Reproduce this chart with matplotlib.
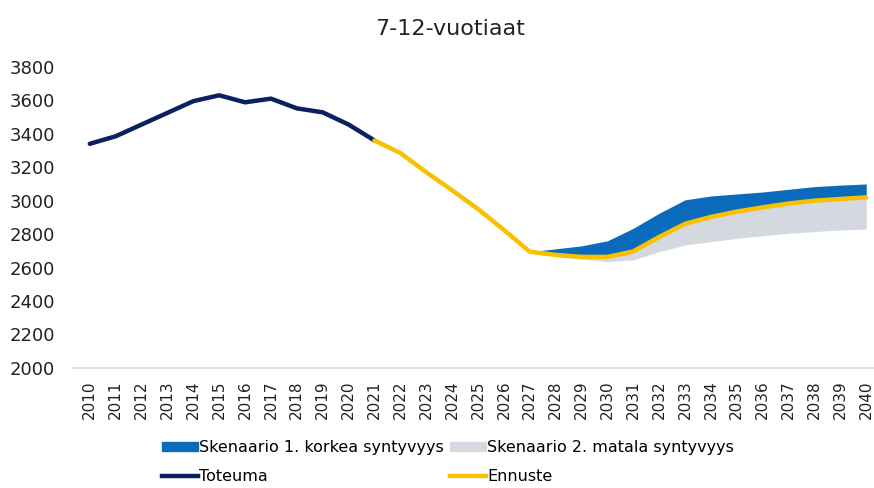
import numpy as np
import matplotlib.pyplot as plt
from matplotlib.patches import Patch
from matplotlib.lines import Line2D

# Data
years = list(range(2010, 2041))
toteuma_years = list(range(2010, 2022))
toteuma = [3340, 3385, 3455, 3525, 3595, 3630, 3588, 3610, 3552, 3528, 3455, 3360]

ennuste_years = list(range(2021, 2041))
ennuste = [3360, 3285, 3170, 3062, 2950, 2825, 2695, 2676, 2664, 2664, 2697,
           2783, 2862, 2903, 2935, 2960, 2983, 3000, 3010, 3020]

scen_years = list(range(2027, 2041))
base = [2695, 2676, 2664, 2664, 2697, 2783, 2862, 2903, 2935, 2960, 2983, 3000, 3010, 3020]
korkea = [2695, 2712, 2730, 2760, 2835, 2925, 3005, 3028, 3040, 3052, 3068, 3084, 3093, 3100]
matala = [2695, 2665, 2650, 2636, 2646, 2695, 2735, 2755, 2775, 2790, 2805, 2815, 2825, 2830]

c_navy = '#0c1f5e'
c_yellow = '#f9c000'
c_blue = '#0a6bbd'
c_gray = '#d3d9de'

plt.rcParams['font.family'] = 'DejaVu Sans'

fig = plt.figure(figsize=(8.74, 4.88), dpi=100)
ax = fig.add_axes([0.082, 0.246, 0.918, 0.617])

ax.fill_between(scen_years, base, korkea, color=c_blue, lw=0)
ax.fill_between(scen_years, matala, base, color=c_gray, lw=0)
ax.plot(toteuma_years, toteuma, color=c_navy, lw=3.2, solid_capstyle='round')
ax.plot(ennuste_years, ennuste, color=c_yellow, lw=3.2, solid_capstyle='round')

ax.set_xlim(2009.3, 2040.3)
ax.set_ylim(2000, 3800)
ax.set_yticks(np.arange(2000, 3801, 200))
ax.set_xticks(years)
ax.set_xticklabels([str(y) for y in years], rotation=90, fontsize=11, color='#222222')
ax.tick_params(axis='y', labelsize=13, colors='#222222', length=0, pad=12)
ax.tick_params(axis='x', length=0, pad=9)
for s in ['top', 'right', 'left']:
    ax.spines[s].set_visible(False)
ax.spines['bottom'].set_color('#d9d9d9')
ax.spines['bottom'].set_linewidth(1.2)

fig.text(0.515, 0.94, '7-12-vuotiaat', ha='center', va='center', fontsize=16, color='#222222')

handles = [Patch(color=c_blue), Line2D([], [], color=c_navy, lw=3.2),
           Patch(color=c_gray), Line2D([], [], color=c_yellow, lw=3.2)]
labels = ['Skenaario 1. korkea syntyvyys', 'Toteuma',
          'Skenaario 2. matala syntyvyys', 'Ennuste']
fig.legend(handles, labels, ncol=2, loc='lower left', bbox_to_anchor=(0.176, -0.008),
           frameon=False, fontsize=11.5, handlelength=2.25, handleheight=0.5,
           handletextpad=0.05, columnspacing=0.45, labelspacing=0.85, borderpad=0.0)

fig.savefig('out.png', dpi=100)
